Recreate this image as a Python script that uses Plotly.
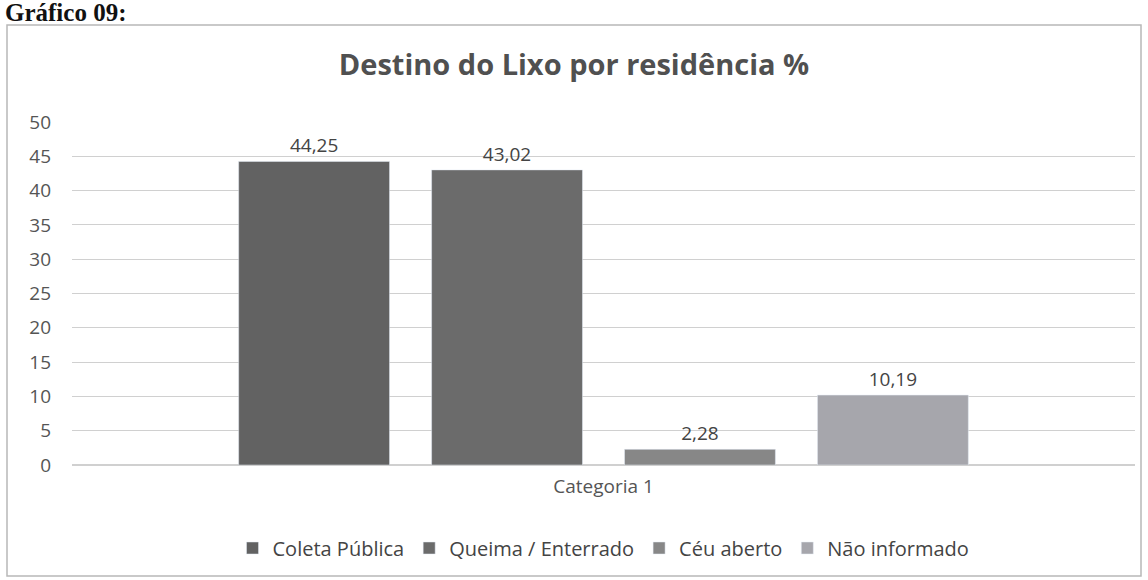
import plotly.graph_objects as go

# dados do gráfico
categorias = ["Categoria 1"]
series = ["Coleta Pública", "Queima / Enterrado", "Céu aberto", "Não informado"]
valores = [44.25, 43.02, 2.28, 10.19]
cores = ["#626262", "#6b6b6b", "#878787", "#a6a6ac"]

fig = go.Figure()
for nome, v, cor in zip(series, valores, cores):
    fig.add_trace(go.Bar(
        x=categorias,
        y=[v],
        name=nome,
        marker=dict(color=cor),
        texttemplate="%{y:.2f}",
        textposition="outside",
        textfont=dict(size=19, color="#444"),
        cliponaxis=False
    ))

# área do gráfico em pixels: x 72..1135, y 122..465
W, H = 1148, 580
L, R, T, B = 72, 13, 122, 115
pw, ph = W - L - R, H - T - B


def px(x):
    return (x - L) / pw


def py(y):
    return (H - B - y) / ph


fig.update_layout(
    width=W, height=H,
    separators=",.",
    paper_bgcolor="white",
    plot_bgcolor="white",
    font=dict(family="Open Sans, sans-serif", color="#555"),
    margin=dict(l=L, r=R, t=T, b=B),
    bargap=0.274,
    bargroupgap=0.218,
    title=dict(
        text="<b>Destino do Lixo por residência %</b>",
        x=0.5, xanchor="center",
        y=1 - 65 / H, yanchor="middle",
        font=dict(size=29, color="#505050")
    ),
    xaxis=dict(
        showgrid=False,
        showline=False,
        ticks="",
        ticklabelstandoff=8,
        tickfont=dict(size=19, color="#555")
    ),
    yaxis=dict(
        range=[0, 50],
        dtick=5,
        showgrid=True,
        gridcolor="#d0d0d0",
        zeroline=True,
        zerolinecolor="#d0d0d0",
        showline=False,
        ticks="",
        ticklabelstandoff=20,
        tickfont=dict(size=19, color="#555")
    ),
    legend=dict(
        orientation="h",
        x=0.5, xanchor="center",
        y=py(548), yanchor="middle",
        font=dict(size=20, color="#444"),
        itemwidth=30
    ),
    showlegend=True
)

# moldura do gráfico
fig.add_shape(
    type="rect", xref="paper", yref="paper",
    x0=px(7), x1=px(1141), y0=py(576), y1=py(25),
    line=dict(color="#b8b8b8", width=1.5),
    fillcolor="rgba(0,0,0,0)", layer="below"
)

fig.add_annotation(
    text="<b>Gráfico 09:</b>",
    xref="paper", yref="paper",
    x=px(3), y=py(12),
    xanchor="left", yanchor="middle",
    showarrow=False,
    font=dict(family="Liberation Serif, Times New Roman, serif", size=25, color="#111")
)

fig.write_html("out.html", config={"displayModeBar": False},
               post_script="document.body.style.margin='0';")
